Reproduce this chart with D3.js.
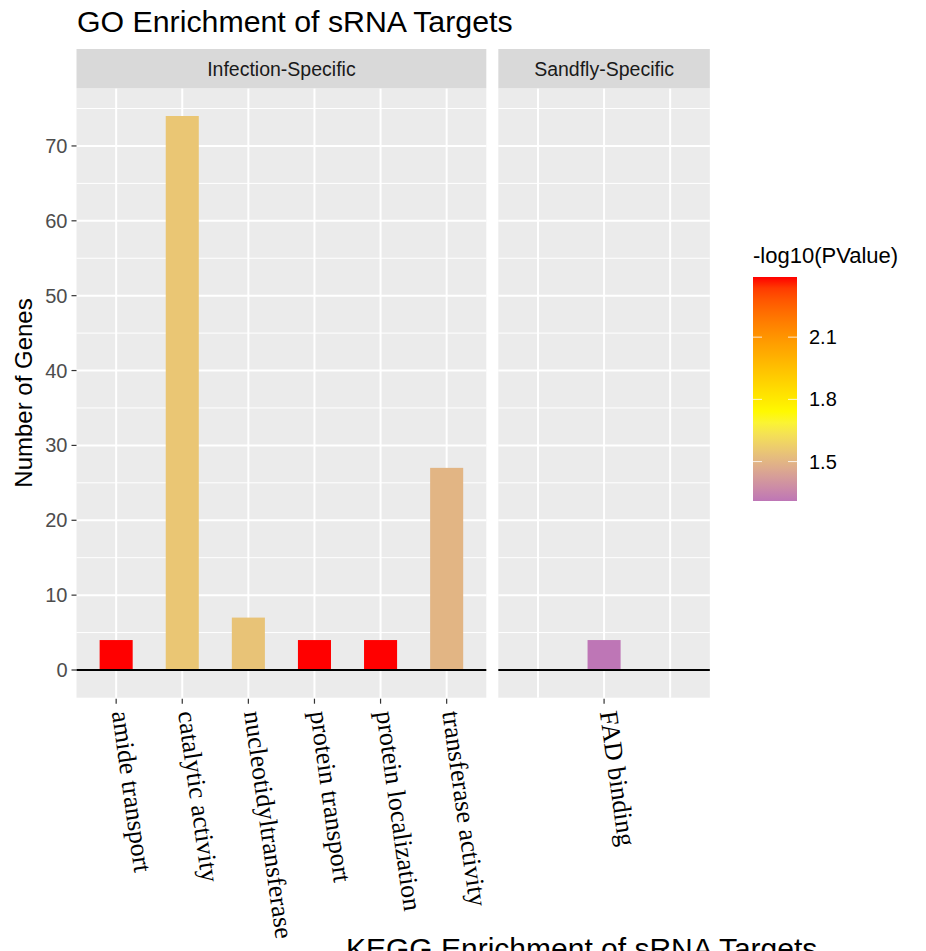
<!DOCTYPE html>
<meta charset="utf-8">
<head>
    <script src="https://d3js.org/d3.v7.min.js"></script>
    <style>
        body { margin: 0; background: #fff; }
        text { font-family: "Liberation Sans", Arial, sans-serif; }
        .xlab { font-family: "Liberation Serif", "Times New Roman", serif; }
    </style>
</head>
<body>
<svg width="926" height="951"></svg>
<script>

// data
var infectionTerms = ["amide transport", "catalytic activity", "nucleotidyltransferase",
                      "protein transport", "protein localization", "transferase activity"];
var infectionGenes = [4, 74, 7, 4, 4, 27];
var infectionLogP  = [2.39, 1.55, 1.54, 2.39, 2.39, 1.50];

var sandflyTerms = ["FAD binding"];
var sandflyGenes = [4];
var sandflyLogP  = [1.31];

var facetNames = ["Infection-Specific", "Sandfly-Specific"];
var yTicks = [0, 10, 20, 30, 40, 50, 60, 70];
var yMinor = [5, 15, 25, 35, 45, 55, 65, 75];
var legendTicks = [1.5, 1.8, 2.1];

var svg = d3.select("svg");

// ggplot-like layout
var unit = 66.1,
    panelTop = 88.3,
    panelBottom = 697.7,
    panelGap = 12,
    leftX = 76.5;

var allGenes = infectionGenes.concat(sandflyGenes),
    allP = infectionLogP.concat(sandflyLogP),
    maxY = d3.max(allGenes),
    pad = maxY * 0.05;

var y = d3.scaleLinear().domain([-pad, maxY + pad]).range([panelBottom, panelTop]);

var pMin = d3.min(allP), pMax = d3.max(allP);
var color = d3.scaleLinear()
    .domain([pMin, 1.72, pMax])
    .range(["#BE76B6", "#FFFF00", "#FF0000"])
    .interpolate(d3.interpolateLab);

// panels: the sandfly facet keeps 3 slots, its term in the middle one
var panels = [
    {name: facetNames[0], terms: infectionTerms, genes: infectionGenes, p: infectionLogP,
     slots: infectionTerms.length, pos: infectionTerms.map(function(d, i) { return i + 1; })},
    {name: facetNames[1], terms: sandflyTerms, genes: sandflyGenes, p: sandflyLogP,
     slots: 3, pos: [2]}
];

var x0 = leftX;
panels.forEach(function(pn) {
    var w = (pn.slots - 1 + 1.2) * unit;
    pn.x = d3.scaleLinear().domain([0.4, pn.slots + 0.6]).range([x0, x0 + w]);
    pn.left = x0;
    pn.width = w;
    x0 += w + panelGap;
});

panels.forEach(function(pn) {
    var g = svg.append("g");

    g.append("rect")
        .attr("x", pn.left).attr("y", panelTop)
        .attr("width", pn.width).attr("height", panelBottom - panelTop)
        .attr("fill", "#EBEBEB");

    g.selectAll(".minor").data(yMinor).enter().append("line")
        .attr("x1", pn.left).attr("x2", pn.left + pn.width)
        .attr("y1", function(d) { return y(d); }).attr("y2", function(d) { return y(d); })
        .attr("stroke", "#fff").attr("stroke-width", 1);

    g.selectAll(".major").data(yTicks).enter().append("line")
        .attr("x1", pn.left).attr("x2", pn.left + pn.width)
        .attr("y1", function(d) { return y(d); }).attr("y2", function(d) { return y(d); })
        .attr("stroke", "#fff").attr("stroke-width", 2);

    g.selectAll(".vgrid").data(d3.range(1, pn.slots + 1)).enter().append("line")
        .attr("x1", function(d) { return pn.x(d); }).attr("x2", function(d) { return pn.x(d); })
        .attr("y1", panelTop).attr("y2", panelBottom)
        .attr("stroke", "#fff").attr("stroke-width", 2);

    // strip
    g.append("rect")
        .attr("x", pn.left).attr("y", 49)
        .attr("width", pn.width).attr("height", panelTop - 49)
        .attr("fill", "#D9D9D9");
    g.append("text")
        .attr("x", pn.left + pn.width / 2).attr("y", 69)
        .attr("dy", "0.35em")
        .attr("text-anchor", "middle")
        .attr("font-size", "19.5px")
        .attr("fill", "#1A1A1A")
        .text(pn.name);

    // bars
    var bw = 0.5;
    g.selectAll(".bar").data(pn.terms).enter().append("rect")
        .attr("x", function(d, i) { return pn.x(pn.pos[i] - bw / 2); })
        .attr("width", function(d, i) { return pn.x(pn.pos[i] + bw / 2) - pn.x(pn.pos[i] - bw / 2); })
        .attr("y", function(d, i) { return y(pn.genes[i]); })
        .attr("height", function(d, i) { return y(0) - y(pn.genes[i]); })
        .attr("fill", function(d, i) { return color(pn.p[i]); });

    // zero line
    g.append("line")
        .attr("x1", pn.left).attr("x2", pn.left + pn.width)
        .attr("y1", y(0)).attr("y2", y(0))
        .attr("stroke", "#000").attr("stroke-width", 1.8);

    // x ticks and labels
    g.selectAll(".xtick").data(pn.terms).enter().append("line")
        .attr("x1", function(d, i) { return pn.x(pn.pos[i]); })
        .attr("x2", function(d, i) { return pn.x(pn.pos[i]); })
        .attr("y1", panelBottom + 1).attr("y2", panelBottom + 6)
        .attr("stroke", "#333").attr("stroke-width", 1.2);

    g.selectAll(".xlab").data(pn.terms).enter().append("text")
        .attr("class", "xlab")
        .attr("transform", function(d, i) {
            return "translate(" + pn.x(pn.pos[i]) + "," + (panelBottom + 14) + ") rotate(82)";
        })
        .attr("dy", "0.17em")
        .attr("font-size", "26px")
        .attr("fill", "#000")
        .text(function(d) { return d; });
});

// y axis on the first panel
var yAxis = svg.append("g");
yAxis.selectAll("line").data(yTicks).enter().append("line")
    .attr("x1", leftX - 5).attr("x2", leftX)
    .attr("y1", function(d) { return y(d); }).attr("y2", function(d) { return y(d); })
    .attr("stroke", "#333").attr("stroke-width", 1.2);
yAxis.selectAll("text").data(yTicks).enter().append("text")
    .attr("x", leftX - 9)
    .attr("y", function(d) { return y(d); })
    .attr("dy", "0.35em")
    .attr("text-anchor", "end")
    .attr("font-size", "20px")
    .attr("fill", "#4D4D4D")
    .text(function(d) { return d; });

svg.append("text")
    .attr("transform", "translate(32," + ((panelTop + panelBottom) / 2) + ") rotate(-90)")
    .attr("text-anchor", "middle")
    .attr("font-size", "24px")
    .attr("fill", "#000")
    .text("Number of Genes");

// title
svg.append("text")
    .attr("x", 77).attr("y", 32)
    .attr("font-size", "30.3px")
    .attr("fill", "#000")
    .text("GO Enrichment of sRNA Targets");

// colour bar legend
var lx = 753, lw = 44, ly0 = 277, ly1 = 501;
var ly = d3.scaleLinear().domain([pMin, pMax]).range([ly1, ly0]);

var grad = svg.append("defs").append("linearGradient")
    .attr("id", "pgrad").attr("x1", 0).attr("y1", 1).attr("x2", 0).attr("y2", 0);
grad.selectAll("stop").data(d3.range(0, 1.0001, 0.05)).enter().append("stop")
    .attr("offset", function(d) { return d; })
    .attr("stop-color", function(d) { return color(pMin + d * (pMax - pMin)); });

svg.append("text")
    .attr("x", lx).attr("y", 263)
    .attr("font-size", "22px")
    .attr("fill", "#000")
    .text("-log10(PValue)");

svg.append("rect")
    .attr("x", lx).attr("y", ly0)
    .attr("width", lw).attr("height", ly1 - ly0)
    .attr("fill", "url(#pgrad)");

var lt = svg.append("g");
lt.selectAll(".tl").data(legendTicks).enter().append("line")
    .attr("x1", lx).attr("x2", lx + 9)
    .attr("y1", function(d) { return ly(d); }).attr("y2", function(d) { return ly(d); })
    .attr("stroke", "#fff").attr("stroke-opacity", 0.8);
lt.selectAll(".tr").data(legendTicks).enter().append("line")
    .attr("x1", lx + lw - 9).attr("x2", lx + lw)
    .attr("y1", function(d) { return ly(d); }).attr("y2", function(d) { return ly(d); })
    .attr("stroke", "#fff").attr("stroke-opacity", 0.8);
lt.selectAll("text").data(legendTicks).enter().append("text")
    .attr("x", lx + lw + 12)
    .attr("y", function(d) { return ly(d); })
    .attr("dy", "0.35em")
    .attr("font-size", "20px")
    .attr("fill", "#000")
    .text(function(d) { return d3.format(".1f")(d); });

// next figure's title, cut off by the bottom edge
svg.append("text")
    .attr("x", 346).attr("y", 959)
    .attr("font-size", "30px")
    .attr("fill", "#000")
    .text("KEGG Enrichment of sRNA Targets");

</script>
</body>
